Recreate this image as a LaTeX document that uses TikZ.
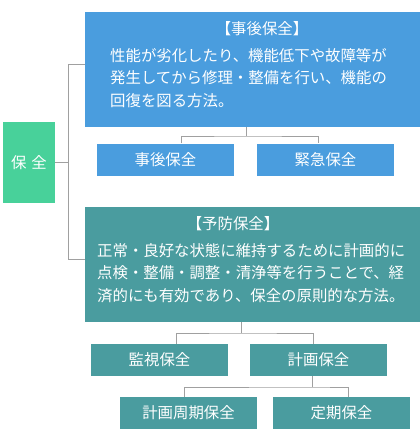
\documentclass[tikz,border=0pt]{standalone}
\usepackage{fontspec}
\setmainfont{Noto Sans CJK JP}
\definecolor{hozengreen}{HTML}{48D19A}
\definecolor{jigoblue}{HTML}{4A9DDE}
\definecolor{yoboteal}{HTML}{4A9C9F}
\definecolor{linegray}{HTML}{A0A0A0}
\begin{document}
\begin{tikzpicture}[x=1pt,y=-1pt]
  \tikzstyle{box}=[rectangle, inner sep=0pt, text=white, font=\fontsize{15.4}{22.5}\selectfont]
  \tikzstyle{big}=[box, minimum width=335pt, minimum height=115pt]
  \tikzstyle{small}=[box, minimum width=137pt, minimum height=32pt]
  \tikzstyle{txt}=[box, align=left]
  \tikzstyle{color1}=[fill=hozengreen]
  \tikzstyle{color2}=[fill=jigoblue]
  \tikzstyle{color3}=[fill=yoboteal]
  \tikzstyle{line}=[draw=linegray, line width=1pt]

  \useasboundingbox (0,0) rectangle (420,440);

  \node[box, color1, minimum width=52pt, minimum height=81pt] (0) at (29,162.5) {保\hspace{5pt}全};

  \node[big, color2] (1) at (252.5,69.5) {};
  \node[txt] (1t) at (262,29) {【事後保全】};
  \node[txt, anchor=west] (1b) at (110,78) {性能が劣化したり、機能低下や故障等が\\発生してから修理・整備を行い、機能の\\回復を図る方法。};

  \node[small, color2] (11) at (165.5,159.5) {事後保全};
  \node[small, color2] (12) at (325.5,159.5) {緊急保全};

  \node[big, color3] (2) at (252.5,264.5) {};
  \node[txt] (2t) at (233,224) {【予防保全】};
  \node[txt, anchor=west] (2b) at (97,273) {正常・良好な状態に維持するために計画的に\\点検・整備・調整・清浄等を行うことで、経\\済的にも有効であり、保全の原則的な方法。};

  \node[small, color3] (21) at (159.5,360) {監視保全};
  \node[small, color3] (22) at (318.5,360) {計画保全};

  \node[small, color3] (221) at (188.5,413) {計画周期保全};
  \node[small, color3] (222) at (341.5,413) {定期保全};

  % bus lines
  \coordinate (b1) at (68,64);
  \coordinate (b2) at (68,259);
  \coordinate (c1) at (246,136);
  \coordinate (c2) at (241,333);
  \coordinate (c3) at (312,387);

  \path[line] (0.east) -- (0.east -| b1);
  \path[line] (1.west |- b1) -- (b1) -- (b2) -- (2.west |- b2);
  \path[line] (1.south -| c1) -- (c1);
  \path[line] ([xshift=15.5pt]11.north) |- (c1) -| ([xshift=-7.5pt]12.north);
  \path[line] (2.south -| c2) -- (c2);
  \path[line] ([xshift=16.5pt]21.north) |- (c2) -| ([xshift=-5.5pt]22.north);
  \path[line] (22.south -| c3) -- (c3);
  \path[line] ([xshift=-4.5pt]221.north) |- (c3) -| ([xshift=6.5pt]222.north);
\end{tikzpicture}
\end{document}
